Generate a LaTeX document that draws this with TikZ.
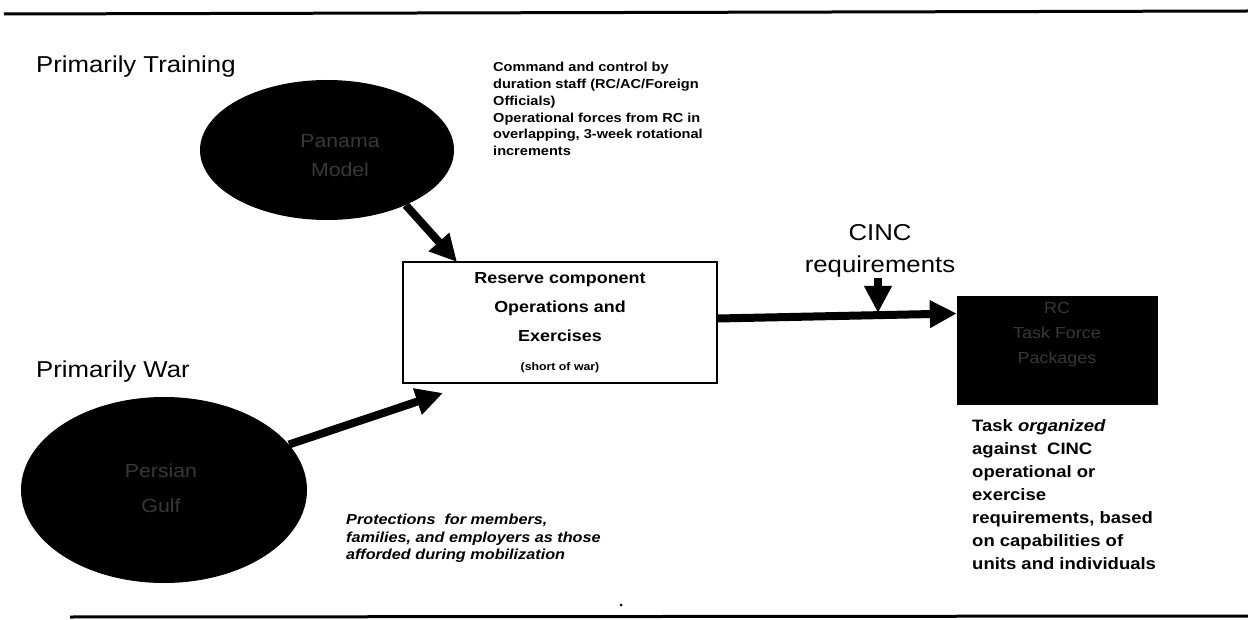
\documentclass[tikz,border=0pt]{standalone}
\usepackage{fontspec}
\setmainfont{Liberation Sans}[FakeStretch=1.12]
\usetikzlibrary{shapes.geometric,arrows.meta}
\definecolor{innergray}{gray}{0.22}
\tikzset{
  bigarrow/.style={line width=8pt,-{Triangle[length=27pt,width=26pt]}},
  blob/.style={ellipse,fill=black,inner sep=0pt},
  blobtext/.style={text=innergray,align=center,inner sep=0pt},
  smalltext/.style={anchor=north west,align=left,inner sep=0pt,font=\bfseries\fontsize{13}{16.8}\selectfont},
  bigtitle/.style={anchor=west,inner sep=0pt,font=\fontsize{23}{27}\selectfont}
}
\begin{document}
\begin{tikzpicture}[x=1pt,y=-1pt]
\useasboundingbox (0,0) rectangle (1248,620);
\fill[white] (0,0) rectangle (1248,620);
% rules
\draw[line width=3pt] (4,14) -- (1248,11);
\draw[line width=3pt] (70,617) -- (1248,616);
\fill (621,605) circle (1.5);
% titles
\node[bigtitle] (ptrain) at (36,67) {Primarily Training};
\node[bigtitle] (pwar) at (36,372) {Primarily War};
% ellipses
\node[blob,minimum width=254,minimum height=140] (panama) at (327,150) {};
\node[blobtext,font=\fontsize{19}{29}\selectfont] (panamatext) at (340,156) {Panama\\Model};
\node[blob,minimum width=286,minimum height=186] (persian) at (164,490) {};
\node[blobtext,font=\fontsize{19}{35}\selectfont] (persiantext) at (161,488) {Persian\\Gulf};
% central box
\node[draw,line width=1.8pt,minimum width=314,minimum height=121,align=center,inner sep=0pt,
      font=\bfseries\fontsize{16}{29}\selectfont] (rco) at (560,322.5)
  {Reserve component\\Operations and\\Exercises\\{\fontsize{11}{13}\selectfont (short of war)}};
% RC box
\node[fill=black,minimum width=201,minimum height=109,inner sep=0pt] (rcbox) at (1057.5,350.5) {};
\node[blobtext,font=\fontsize{16}{25}\selectfont] (rctext) at (1057,335) {RC\\Task Force\\Packages};
% CINC
\node[align=center,inner sep=0pt,font=\fontsize{23}{32}\selectfont] (cinc) at (880,251) {CINC\\requirements};
% texts
\node[smalltext] (cmd) at (493,62) {Command and control by\\duration staff (RC/AC/Foreign\\Officials)\\Operational forces from RC in\\overlapping, 3-week rotational\\increments};
\node[smalltext,font=\bfseries\itshape\fontsize{14.5}{17.5}\selectfont] (prot) at (346,514) {Protections\ \ for members,\\families, and employers as those\\afforded during mobilization};
\node[smalltext,font=\bfseries\fontsize{16.5}{23}\selectfont] (task) at (972,419) {Task \textit{organized}\\against\ \ CINC\\operational or\\exercise\\requirements, based\\on capabilities of\\units and individuals};
% arrows
\coordinate (panTip) at (457,262);
\coordinate (perTip) at (443,393);
\coordinate (cTip) at (878,313);
\draw[bigarrow] (panama.-35) -- (panTip);
\draw[bigarrow] (persian.20) -- (perTip);
\draw[bigarrow] (cinc.south -| cTip) -- (cTip);
\draw[bigarrow] ([yshift=4pt]rco.east) -- ([yshift=37pt]rcbox.west);
\end{tikzpicture}
\end{document}
